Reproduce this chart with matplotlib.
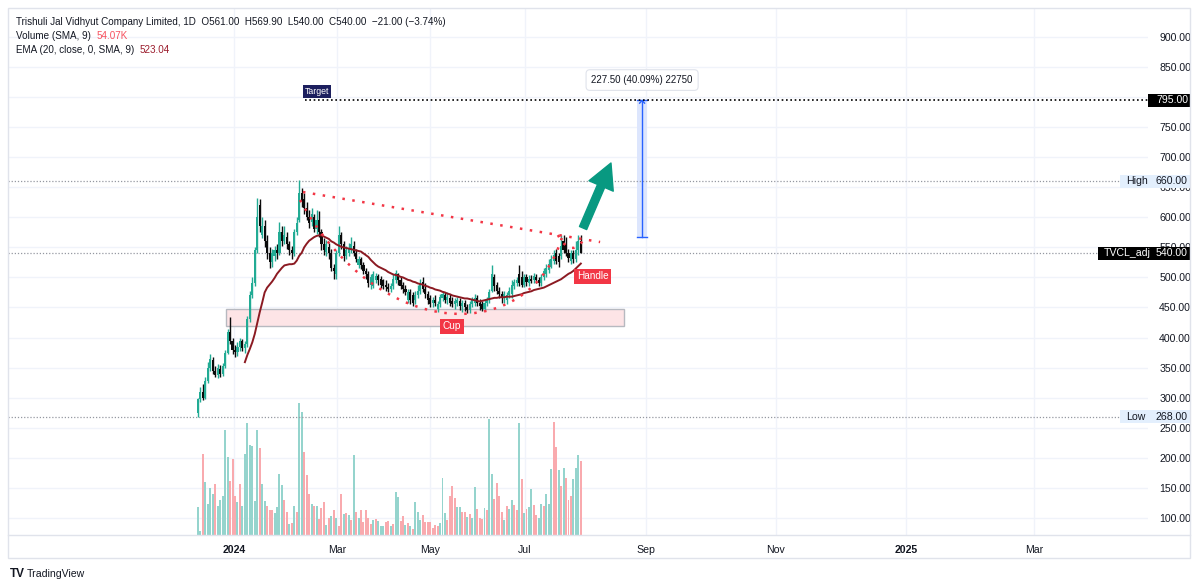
import matplotlib
matplotlib.use("Agg")
import matplotlib.pyplot as plt
import matplotlib.transforms as mtransforms
from matplotlib.patches import Rectangle, PathPatch
from matplotlib.path import Path
from matplotlib.lines import Line2D
import numpy as np

plt.rcParams['font.family'] = ['Liberation Sans', 'DejaVu Sans']

# ---------------- data ----------------
opens = [275,298,310,300,328,350,362,345,338,348,
340,352,375,410,395,380,376,385,395,382,
390,430,470,490,545,620,570,585,560,540,
525,535,545,540,575,560,568,555,545,540,
575,595,640,630,615,600,592,600,580,595,
575,555,542,550,540,515,505,540,570,555,
535,540,545,552,540,520,530,520,510,505,
488,485,495,502,498,495,488,484,480,485,
495,505,495,488,480,462,475,470,462,470,
478,492,480,472,465,458,462,448,455,465,
470,462,466,460,455,458,460,452,458,450,
445,455,458,466,458,455,448,458,462,478,
500,488,478,472,465,462,470,472,485,490,
505,500,488,500,490,498,495,500,496,490,
500,505,512,518,528,540,535,535,560,555,
540,528,540,530,545,561]
highs = [300,318,322,335,360,372,368,352,356,355,
358,380,415,434,400,388,392,400,398,395,
435,478,500,550,632,630,600,595,570,550,
548,552,556,592,585,586,575,560,552,580,
600,662,648,640,625,612,615,605,612,610,
580,565,562,558,548,522,545,585,575,560,
552,558,568,560,548,535,534,525,515,510,
505,510,508,506,502,498,495,490,490,505,
512,508,500,492,488,480,480,476,478,488,
498,500,490,478,470,468,470,460,472,478,
476,475,472,468,465,468,466,462,462,456,
460,468,472,470,464,460,462,468,480,521,
505,492,484,478,478,476,484,495,498,500,
520,510,506,505,504,504,508,506,500,505,
516,522,530,538,545,548,540,571,570,568,
548,545,546,560,571,569.9]
lows = [268,292,296,298,325,345,340,334,333,335,
336,350,372,390,372,368,370,378,378,375,
385,425,465,485,540,575,565,550,530,515,
518,528,530,538,552,555,548,538,530,536,
570,592,618,605,595,582,585,575,572,568,
545,538,535,530,510,498,498,535,548,528,
530,535,540,535,525,515,514,505,498,484,
480,482,490,488,483,480,478,475,476,480,
490,488,480,474,470,458,456,452,455,465,
472,475,465,455,450,450,452,442,450,460,
458,456,452,450,448,452,445,442,444,440,
440,450,452,452,446,444,445,452,458,475,
478,472,465,458,458,455,465,465,480,485,
486,484,484,486,486,490,490,490,485,486,
495,500,508,515,522,522,518,530,540,535,
525,522,524,525,538,540]
closes = [298,310,300,328,350,365,345,338,350,340,
352,375,410,395,380,376,385,395,382,390,
430,470,490,545,600,585,585,560,540,525,
540,545,540,575,560,570,555,545,540,575,
590,640,625,615,600,590,605,580,595,575,
555,545,556,540,515,510,540,570,555,535,
545,548,555,540,530,530,520,510,505,490,
500,505,502,495,488,485,484,480,485,498,
507,495,485,480,475,475,462,458,470,478,
490,480,472,462,455,462,458,455,468,472,
462,468,458,455,460,462,452,458,450,445,
455,462,466,458,452,448,458,462,475,505,
485,478,472,465,472,470,478,488,492,496,
490,488,500,492,498,494,502,496,490,500,
510,515,522,530,538,528,525,552,545,540,
532,540,530,545,561,540]

# volume in thousands, with bar direction as drawn (u = up, d = down)
volume_k = [26.3,4.0,75.3,49.0,28.5,44.0,37.8,47.1,27.0,32.2,
36.3,97.0,72.2,50.5,70.7,36.3,31.0,47.7,27.0,75.6,
103.9,83.7,82.8,31.6,97.0,80.9,47.7,31.6,27.0,23.3,
23.3,20.8,26.0,56.7,46.5,32.9,21.7,9.9,11.5,27.3,
21.1,122.5,113.8,76.6,55.5,38.1,28.5,27.3,27.3,15.2,
25.4,30.4,9.3,15.5,17.7,23.3,16.1,8.7,37.8,19.2,
20.2,18.6,14.0,74.4,21.7,15.5,23.6,12.4,23.6,16.1,
9.9,14.0,14.9,13.0,8.4,8.4,11.8,13.0,8.4,10.2,
40.3,35.3,13.0,17.4,9.3,11.2,8.7,5.6,30.4,21.7,
13.6,18.6,12.4,12.4,12.4,6.2,9.3,8.1,11.2,52.7,
20.5,14.3,36.0,45.3,34.1,26.0,26.0,21.1,21.1,16.7,
19.8,15.5,44.6,24.2,15.5,14.9,24.8,22.9,107.6,57.0,
33.5,48.4,36.6,21.7,13.6,27.3,24.2,32.2,27.9,23.6,
103.9,52.1,20.5,24.2,26.0,42.8,27.9,18.6,15.5,28.5,
27.3,37.8,29.1,61.4,104.8,81.2,60.1,45.9,62.6,53.3,
32.9,36.6,52.1,62.0,73.8,68.8]
volume_dir = list(
    "uuduuuuduu" "uuuddduduu" "uuuuuduudd" "duuuuddudu"
    "duudddudud" "ddudududdu" "dudududddd" "duduuuddud"
    "uuddududuu" "uddddddduu" "udddduuddu" "duuddduduu"
    "dddduduudd" "ududuudduu" "duuuddudud" "dduuud"
)

# EMA (20, close, 0, SMA, 9) as drawn, starting at bar 19
ema_start = 19
ema_vals = [359,371,381,392,406,424,442,458,475,483,
488,493,499,506,511,516,520,521,522,522,
523,528,536,541,550,556,561,564,567,569,
570,570,568,566,564,560,558,555,553,551,
550,549,548,547,546,545,544,543,540,537,
534,529,525,521,518,516,514,512,509,507,
505,504,503,501,500,498,496,495,493,492,
490,489,488,486,485,483,482,480,479,478,
476,475,473,472,470,469,468,467,466,465,
465,464,463,462,461,460,461,462,463,464,
465,466,466,467,467,467,468,468,468,469,
470,471,472,474,475,476,477,479,480,481,
482,483,485,487,489,491,493,495,497,500,
503,506,508,511,515,519,523.04]

price_ticks = list(range(100, 901, 50))
date_labels = ["2024", "Mar", "May", "Jul", "Sep", "Nov", "2025", "Mar"]
date_label_bold = [True, False, False, False, False, False, True, False]
date_tick_bars = [14.6, 56.3, 93.9, 132.4, 181.4, 234.0, 286.6, 338.5]

target_price = 795.0
high_price = 660.0
low_price = 268.0
last_price = 540.0
measure_from = 567.5
header = "Trishuli Jal Vidhyut Company Limited, 1D  O561.00  H569.90  L540.00  C540.00  \u221221.00 (\u22123.74%)"

# ---------------- figure ----------------
W, H = 1200, 588
fig = plt.figure(figsize=(W / 100, H / 100), dpi=100)
fig.patch.set_facecolor("white")

def fx(px):
    return px / W

def fy(py):
    return 1 - py / H

TXT = "#131722"
UP = "#22ab94"
DOWN = "#0b0b0b"
GRID = "#f0f3fa"
RED = "#f23645"

ax_l, ax_r, ax_t, ax_b = 8, 1148, 8, 535
axv = fig.add_axes([fx(ax_l), fy(ax_b), fx(ax_r) - fx(ax_l), fy(ax_t) - fy(ax_b)])
ax = fig.add_axes([fx(ax_l), fy(ax_b), fx(ax_r) - fx(ax_l), fy(ax_t) - fy(ax_b)], sharex=axv)
ax.patch.set_visible(False)

n = len(closes)
x = np.arange(n)
o = np.array(opens, float); h = np.array(highs, float)
l = np.array(lows, float); c = np.array(closes, float)

xlim = (-76.9, 384.6)
ylim = (71.4, 948.3)
ax.set_xlim(*xlim)
ax.set_ylim(*ylim)

# grid (drawn on the volume axis so it sits behind everything)
vtop = 489
axv.set_ylim(0, vtop)
for sp in axv.spines.values():
    sp.set_visible(False)
axv.set_yticks([])
axv.tick_params(axis="x", length=0, labelbottom=False)
for yv in price_ticks:
    axv.axhline((yv - ylim[0]) / (ylim[1] - ylim[0]) * vtop, color=GRID, lw=1, zorder=0)
for xb in date_tick_bars:
    axv.axvline(xb, color=GRID, lw=1, zorder=0)

# volume
nv = min(len(volume_k), len(volume_dir), n)
vcol = ["#95d4cd" if d == "u" else "#f9aaae" for d in volume_dir[:nv]]
axv.bar(np.arange(nv), volume_k[:nv], width=0.8, color=vcol, linewidth=0, zorder=2)

# candles
up = c >= o
cols = np.where(up, UP, DOWN)
ax.vlines(x, l, h, colors=cols, lw=1.0, zorder=5)
body_lo = np.minimum(o, c)
body_h = np.maximum(np.abs(c - o), 1.0)
ax.bar(x, body_h, bottom=body_lo, width=0.85, color=cols, linewidth=0, zorder=5)

# EMA
ax.plot(np.arange(ema_start, ema_start + len(ema_vals)), ema_vals, color="#8b1a22", lw=1.4, zorder=6)

# support zone rectangle
ax.add_patch(Rectangle((11.3, 419.1), 161.2, 28.3, facecolor="#fde4e6", edgecolor="#b7b9c0", lw=1, zorder=3))

# trendline
ax.plot([42.5, 162.8], [642.1, 558.9], color=RED, lw=1.8, ls=(0, (1, 3)), zorder=7)
# cup curve
cup = Path([(41.3, 628.8), (73.7, 387.5), (134.4, 387.5), (147.4, 567.2)],
           [Path.MOVETO, Path.CURVE4, Path.CURVE4, Path.CURVE4])
ax.add_patch(PathPatch(cup, fill=False, edgecolor=RED, lw=1.8, ls=(0, (1, 3)), zorder=7))
# handle curve
handle = Path([(145.7, 570.5), (151.4, 528.0), (157.1, 568.9)],
              [Path.MOVETO, Path.CURVE3, Path.CURVE3])
ax.add_patch(PathPatch(handle, fill=False, edgecolor=RED, lw=1.8, ls=(0, (1, 3)), zorder=7))

ax.text(102.8, 418.5, "Cup", ha="center", va="center", fontsize=7.2, color="white", zorder=9,
        bbox=dict(boxstyle="square,pad=0.25", facecolor=RED, edgecolor="none"))
ax.text(159.7, 502.3, "Handle", ha="center", va="center", fontsize=7.2, color="white", zorder=9,
        bbox=dict(boxstyle="square,pad=0.25", facecolor=RED, edgecolor="none"))

# target line
ax.plot([43.3, xlim[1]], [target_price, target_price], color="black", lw=1.2, ls=(0, (1, 1.6)), zorder=7, clip_on=False)
ax.text(43.4, 810, "Target", ha="left", va="center", fontsize=6.3, color="white", zorder=9,
        bbox=dict(boxstyle="square,pad=0.22", facecolor="#1c1f5e", edgecolor="none"))

# green arrow
ax.annotate("", xy=(167.2, 690.4), xytext=(155.9, 582.2),
            arrowprops=dict(arrowstyle="simple,head_length=0.9,head_width=0.95,tail_width=0.28",
                            color="#089981", mutation_scale=20, shrinkA=0, shrinkB=0), zorder=8)

# measurement
mx = 179.8
ax.add_patch(Rectangle((mx - 2.0, measure_from), 4.0, target_price - measure_from,
                       facecolor="#dde6fd", edgecolor="none", zorder=4))
ax.plot([mx, mx], [measure_from, target_price - 1], color="#2962ff", lw=1, zorder=5)
ax.plot([mx - 2.0, mx + 2.0], [measure_from, measure_from], color="#2962ff", lw=1, zorder=5)
ax.plot([mx - 2.0, mx + 2.0], [target_price, target_price], color="#2962ff", lw=1, zorder=5)
ax.plot([mx - 1.0, mx, mx + 1.0], [target_price - 5, target_price - 0.5, target_price - 5], color="#2962ff", lw=1, zorder=5)
ax.text(mx, 828.4, "227.50 (40.09%) 22750", ha="center", va="center", fontsize=7, color=TXT, zorder=9,
        bbox=dict(boxstyle="round,pad=0.55,rounding_size=0.4", facecolor="white", edgecolor="#e0e3eb", lw=0.8))

# horizontal dotted price lines
bt = mtransforms.blended_transform_factory(fig.transFigure, ax.transData)
for yv, xend in [(high_price, 1120), (last_price, 1098), (low_price, 1120)]:
    ax.plot([fx(ax_l), fx(xend)], [yv, yv], transform=bt, color="#9598a1", lw=0.9,
            ls=(0, (1, 1.5)), zorder=4, clip_on=False)

# axes styling
for sp in ax.spines.values():
    sp.set_visible(False)
ax.yaxis.tick_right()
ax.set_yticks(price_ticks)
# the 800 label is hidden by the target badge on the price scale
ax.set_yticklabels(["" if v == 800 else f"{v:.2f}" for v in price_ticks])
ax.tick_params(axis="y", length=0, pad=8, labelsize=7.6, labelcolor=TXT)
ax.set_xticks(date_tick_bars)
ax.set_xticklabels(date_labels)
ax.tick_params(axis="x", length=0, pad=7, labelsize=7.6, labelcolor=TXT)
for lab, b in zip(ax.get_xticklabels(), date_label_bold):
    if b:
        lab.set_fontweight("bold")

# badges on price scale
def badge(yv, x0, name, value, bg, fg):
    ax.add_patch(Rectangle((fx(x0), yv - 11), fx(1190) - fx(x0), 22, transform=bt, facecolor=bg,
                           edgecolor="none", zorder=10, clip_on=False))
    if name:
        ax.text(fx(x0 + 6), yv, name, transform=bt, ha="left", va="center", fontsize=7.6,
                color=fg, zorder=11, clip_on=False)
    ax.text(fx(1156), yv, value, transform=bt, ha="left", va="center", fontsize=7.6,
            color=fg, zorder=11, clip_on=False)

badge(target_price, 1148, None, f"{target_price:.2f}", "black", "white")
badge(high_price, 1120, "High", f"{high_price:.2f}", "#e3effd", TXT)
badge(last_price, 1098, "TVCL_adj", f"{last_price:.2f}", "black", "white")
badge(low_price, 1120, "Low", f"{low_price:.2f}", "#e3effd", TXT)

# frame
fig.add_artist(Rectangle((fx(8), fy(558)), fx(1190) - fx(8), fy(8) - fy(558), transform=fig.transFigure,
                         fill=False, edgecolor="#e0e3eb", lw=1))
fig.add_artist(Line2D([fx(8), fx(1190)], [fy(535), fy(535)], transform=fig.transFigure, color="#e0e3eb", lw=1))

# header legend
t1 = fig.text(fx(16), fy(22), header, fontsize=7.15, color=TXT, ha="left", va="center")
t2 = fig.text(fx(16), fy(36), "Volume (SMA, 9)", fontsize=7.15, color=TXT, ha="left", va="center")
t3 = fig.text(fx(16), fy(50), "EMA (20, close, 0, SMA, 9)", fontsize=7.15, color=TXT, ha="left", va="center")
fig.add_artist(plt.Annotation("54.07K", xy=(1, 0.5), xycoords=t2, xytext=(4, 0), textcoords="offset points",
                              va="center", ha="left", fontsize=7.15, color="#f7525f"))
fig.add_artist(plt.Annotation("523.04", xy=(1, 0.5), xycoords=t3, xytext=(4, 0), textcoords="offset points",
                              va="center", ha="left", fontsize=7.15, color="#9b1c2c"))

# footer logo
fig.text(fx(10), fy(574), "TV", fontsize=8.5, fontweight="heavy", color=TXT, ha="left", va="center")
fig.text(fx(27), fy(574), "TradingView", fontsize=7.6, color=TXT, ha="left", va="center")

fig.savefig("out.png", dpi=100, facecolor="white")
